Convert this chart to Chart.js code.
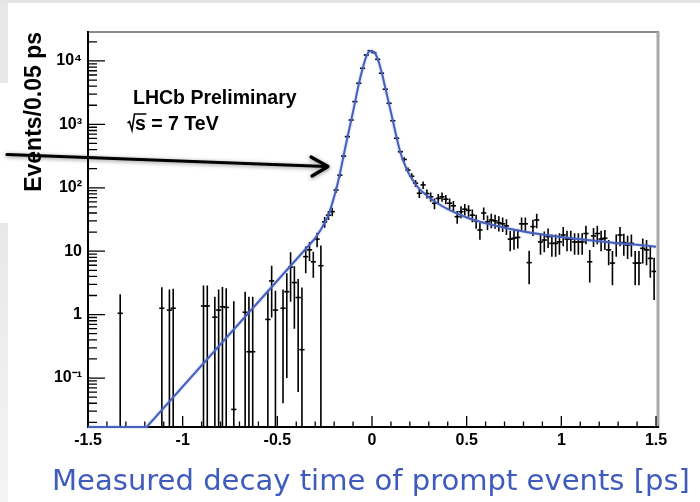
<!DOCTYPE html>
<html>
<head>
<meta charset="utf-8">
<script src="https://cdn.jsdelivr.net/npm/chart.js@4.4.1/dist/chart.umd.min.js"></script>
<style>
  html, body { margin: 0; padding: 0; background: #ffffff; }
  #wrap { width: 700px; height: 502px; position: relative; }
</style>
</head>
<body>
<div id="wrap"><canvas id="c" width="700" height="502"></canvas></div>
<script>
// Bin centres (ps) of the non-empty 0.02 ps bins
const decayTime = [
  -1.33, -1.11, -1.07, -1.05, -0.89, -0.87, -0.83, -0.81, -0.79, -0.77, -0.73, -0.67, -0.65, -0.63, -0.55, -0.53, -0.51,
  -0.47, -0.45, -0.43, -0.41, -0.39, -0.37, -0.35, -0.33, -0.31, -0.29, -0.27, -0.25, -0.23, -0.21, -0.19,
  -0.17, -0.15, -0.13, -0.11, -0.09, -0.07, -0.05, -0.03, -0.01, 0.01, 0.03, 0.05, 0.07, 0.09, 0.11, 0.13, 0.15,
  0.17, 0.19, 0.21, 0.23, 0.25, 0.27, 0.29, 0.31, 0.33, 0.35, 0.37, 0.39, 0.41, 0.43, 0.45, 0.47, 0.49,
  0.51, 0.53, 0.55, 0.57, 0.59, 0.61, 0.63, 0.65, 0.67, 0.69, 0.71, 0.73, 0.75, 0.77, 0.79, 0.81, 0.83,
  0.85, 0.87, 0.89, 0.91, 0.93, 0.95, 0.97, 0.99, 1.01, 1.03, 1.05, 1.07, 1.09, 1.11, 1.13, 1.15, 1.17,
  1.19, 1.21, 1.23, 1.25, 1.27, 1.29, 1.31, 1.33, 1.35, 1.37, 1.39, 1.41, 1.43, 1.45, 1.47, 1.49
];

// Weighted events per bin
const events = [
  1.05, 1.26, 1.18, 1.26, 1.37, 1.37, 0.91, 1.18, 1.33, 1.30, 0.032, 1.09, 0.26, 0.26, 0.84, 3.4, 1.18,
  1.26, 2.3, 5.6, 3.2, 1.86, 0.28, 8.2, 10.5, 6.8, 15.5, 5.9, 29, 37, 42, 92,
  158, 316, 640, 1170, 2280, 4450, 7670, 12400, 14500, 13500, 10600, 6400, 3580, 2150, 1140, 604, 370,
  280, 190, 152, 118, 82, 111, 81, 72, 57, 68, 72, 66, 57, 52, 35, 42, 46,
  44, 37, 30, 21.6, 40, 29, 31, 30, 28, 27, 25, 15.5, 16, 16.5, 27, 27, 6.6,
  24.4, 31, 14, 15, 17, 13.3, 13.3, 14, 18, 15.5, 15.5, 14, 14, 14, 19, 6.8, 17.4,
  19, 15.5, 16, 10.5, 6.5, 13.3, 18, 13.7, 12.5, 13.3, 6.5, 6.5, 11.1, 10.5, 7.7, 4.8
];

// Uncertainty on each bin
const eventErr = [
  1.05, 1.45, 1.3, 1.3, 1.5, 1.5, 1.0, 1.3, 1.4, 1.3, 1.6, 1.2, 1.65, 1.65, 1.6, 2.5, 1.2,
  1.22, 2.2, 4.0, 2.6, 1.8, 2.4, 3.7, 3.5, 3.0, 4.0, 6.4, 5.5, 6.0, 6.5, 9.0,
  13, 18, 25, 34, 48, 67, 88, 111, 120, 116, 103, 80, 60, 46, 34, 25, 19,
  23, 19, 17, 15, 13, 15, 13, 12, 11, 12, 12, 11, 11, 10, 8, 9, 9.5,
  9, 8.5, 7.5, 6.5, 9, 7.5, 8, 7.5, 7.5, 7, 7, 5.5, 5.5, 5.5, 7, 7, 3.6,
  7, 8, 5.2, 5.4, 5.8, 5.1, 5.1, 5.2, 6, 5.5, 5.5, 5.2, 5.2, 5.2, 6.1, 3.6, 5.8,
  6.1, 5.5, 5.6, 4.5, 3.6, 5.1, 6, 5.2, 5, 5.1, 3.6, 3.6, 4.7, 4.5, 3.9, 3.1
];

// Fitted model, exponential rise on the negative side (straight on a log axis)
const fitRiseTime = [-1.5, -1.19, -0.3];
const fitRiseEvents = [0.0169, 0.0169, 16];

// Fitted model, resolution peak and long-lived tail
const fitPeakTime = [
  -0.3, -0.27, -0.25, -0.23, -0.21, -0.19, -0.17, -0.15, -0.13, -0.11,
  -0.09, -0.07, -0.05, -0.03, -0.01, 0.01, 0.03, 0.05, 0.07, 0.09, 0.11, 0.13, 0.15, 0.17, 0.19, 0.21,
  0.23, 0.25, 0.3, 0.35, 0.4, 0.5, 0.6, 0.7, 0.8, 0.9, 1.0, 1.1, 1.2, 1.3, 1.4, 1.5
];
const fitPeakEvents = [
  16, 22, 28, 37, 57, 92, 165, 320, 620, 1150,
  2200, 4300, 7500, 11800, 14400, 13900, 10800, 6800, 3800, 2100, 1150, 620, 360, 245, 178, 140,
  113, 96, 71, 56, 46, 34, 27.5, 23.5, 20.5, 18.3, 16.7, 15.4, 14.3, 13.4, 12.6, 11.8
];

const xTickValues = [-1.5, -1, -0.5, 0, 0.5, 1, 1.5];
const xTickLabels = ['-1.5', '-1', '-0.5', '0', '0.5', '1', '1.5'];
const yTickValues = [0.1, 1, 10, 100, 1000, 10000];
const yTickLabels = ['10\u207B\u00B9', '1', '10', '10\u00B2', '10\u00B3', '10\u2074'];
const xAxisTitle = 'Measured decay time of prompt events [ps]';

const Y_MIN = 0.0169;
const Y_MAX = 28600;
const SANS = '"Liberation Sans", Arial, Helvetica, sans-serif';
const FIT_BLUE = '#4761bd';

// Slide background behind the plot
const pageBackground = {
  id: 'pageBackground',
  beforeDraw(chart) {
    const ctx = chart.ctx;
    ctx.save();
    ctx.fillStyle = '#ffffff';
    ctx.fillRect(0, 0, chart.width, chart.height);
    ctx.fillStyle = '#e4e4e4';
    ctx.fillRect(0, 0, chart.width, 3);
    ctx.fillStyle = '#e7e7e7';
    ctx.fillRect(0, 3, 8, 80);
    const g = ctx.createLinearGradient(0, 223, 0, chart.height);
    g.addColorStop(0, '#e8e8e8');
    g.addColorStop(1, '#f4f4f4');
    ctx.fillStyle = g;
    ctx.fillRect(0, 223, 8, chart.height - 223);
    ctx.restore();
  }
};

// Pad frame with inward-pointing ticks, then the error bars
const rootFrame = {
  id: 'rootFrame',
  beforeDatasetsDraw(chart) {
    const { ctx, chartArea: a, scales: { x, y } } = chart;
    ctx.save();
    ctx.strokeStyle = '#8c8c8c';
    ctx.lineWidth = 2;
    ctx.beginPath();
    ctx.moveTo(a.left, a.top);
    ctx.lineTo(a.right + 3, a.top);
    ctx.stroke();
    ctx.strokeStyle = '#a8a8a8';
    ctx.lineWidth = 3;
    ctx.beginPath();
    ctx.moveTo(a.right + 2, a.top);
    ctx.lineTo(a.right + 2, a.bottom + 1);
    ctx.stroke();

    ctx.strokeStyle = '#000';
    ctx.lineWidth = 2;
    ctx.beginPath();
    ctx.moveTo(a.left, a.top - 1);
    ctx.lineTo(a.left, a.bottom);
    ctx.lineTo(a.right + 3, a.bottom);
    ctx.stroke();

    ctx.lineWidth = 1.3;
    ctx.beginPath();
    for (let k = -15; k <= 15; k++) {
      const px = x.getPixelForValue(k / 10);
      const len = (k % 5 === 0) ? 11 : 5.5;
      ctx.moveTo(px, a.bottom);
      ctx.lineTo(px, a.bottom - len);
    }
    for (let e = -2; e <= 4; e++) {
      for (let m = 1; m <= 9; m++) {
        const v = m * Math.pow(10, e);
        if (v < Y_MIN || v > Y_MAX) continue;
        const py = y.getPixelForValue(v);
        const len = m === 1 ? 17 : 9;
        ctx.moveTo(a.left, py);
        ctx.lineTo(a.left + len, py);
      }
    }
    ctx.stroke();
    ctx.restore();

    // vertical error bars
    ctx.save();
    ctx.beginPath();
    ctx.rect(a.left, a.top, a.right - a.left, a.bottom - a.top);
    ctx.clip();
    ctx.strokeStyle = '#000';
    ctx.lineWidth = 1.6;
    ctx.beginPath();
    decayTime.forEach((t, i) => {
      const v = events[i], err = eventErr[i];
      const px = x.getPixelForValue(t);
      const top = y.getPixelForValue(v + err);
      const low = (v - err) > Y_MIN ? y.getPixelForValue(v - err) : a.bottom + 2;
      ctx.moveTo(px, top);
      ctx.lineTo(px, low);
    });
    ctx.stroke();
    ctx.restore();
  },
  beforeDatasetDraw(chart, args) {
    if (args.index < 2) {
      const ctx = chart.ctx;
      ctx.shadowColor = 'rgba(100,130,230,0.55)';
      ctx.shadowBlur = 2;
    }
  },
  afterDatasetDraw(chart, args) {
    if (args.index < 2) {
      const ctx = chart.ctx;
      ctx.shadowColor = 'rgba(0,0,0,0)';
      ctx.shadowBlur = 0;
    }
  }
};

// Axis caption, experiment label and the pointer arrow
const overlay = {
  id: 'overlay',
  afterDraw(chart) {
    const ctx = chart.ctx;
    const a = chart.chartArea;
    ctx.save();

    // caption under the time axis, sized to span 638 px
    ctx.font = '30px "DejaVu Sans", Verdana, sans-serif';
    const size = 30 * 638 / ctx.measureText(xAxisTitle).width;
    ctx.font = size.toFixed(2) + 'px "DejaVu Sans", Verdana, sans-serif';
    ctx.fillStyle = '#3f5bbd';
    ctx.textAlign = 'center';
    ctx.textBaseline = 'alphabetic';
    ctx.fillText(xAxisTitle, (a.left + a.right) / 2 - 1, 490);

    ctx.textAlign = 'left';
    ctx.fillStyle = '#000';
    ctx.font = 'bold 19.5px ' + SANS;
    ctx.fillText('LHCb Preliminary', 133, 104);
    ctx.fillText('s = 7 TeV', 135, 130);
    const sw = ctx.measureText('s').width;
    ctx.strokeStyle = '#000';
    ctx.lineWidth = 1.6;
    ctx.lineJoin = 'miter';
    ctx.beginPath();
    ctx.moveTo(127.5, 123);
    ctx.lineTo(129.5, 121.5);
    ctx.lineTo(132, 130);
    ctx.lineTo(134.5, 114);
    ctx.lineTo(135 + sw + 0.5, 114);
    ctx.stroke();

    ctx.shadowColor = 'rgba(0,0,0,0.45)';
    ctx.shadowBlur = 4;
    ctx.shadowOffsetY = 1;
    ctx.strokeStyle = '#000';
    ctx.lineWidth = 3.2;
    ctx.lineCap = 'round';
    ctx.lineJoin = 'round';
    ctx.beginPath();
    ctx.moveTo(7, 154.5);
    ctx.lineTo(326, 166.5);
    ctx.stroke();
    ctx.beginPath();
    ctx.moveTo(311, 157);
    ctx.lineTo(328, 166.5);
    ctx.lineTo(312, 176);
    ctx.stroke();
    ctx.restore();
  }
};

new Chart(document.getElementById('c'), {
  type: 'scatter',
  data: {
    datasets: [
      {
        type: 'line',
        data: fitPeakTime.map((t, i) => ({ x: t, y: fitPeakEvents[i] })),
        borderColor: FIT_BLUE,
        borderWidth: 2,
        pointRadius: 0,
        cubicInterpolationMode: 'monotone',
        fill: false,
        clip: 3
      },
      {
        type: 'line',
        data: fitRiseTime.map((t, i) => ({ x: t, y: fitRiseEvents[i] })),
        borderColor: FIT_BLUE,
        borderWidth: 2,
        pointRadius: 0,
        tension: 0,
        fill: false,
        clip: 3
      },
      {
        type: 'scatter',
        data: decayTime.map((t, i) => ({ x: t, y: events[i] })),
        pointStyle: 'line',
        pointRadius: 2.6,
        pointBorderWidth: 1.6,
        pointBorderColor: '#000',
        pointBackgroundColor: '#000',
        pointHoverRadius: 0
      }
    ]
  },
  options: {
    responsive: false,
    devicePixelRatio: 1,
    animation: false,
    events: [],
    layout: { padding: { top: 32, right: 44, bottom: 0, left: 0 } },
    plugins: { legend: { display: false }, tooltip: { enabled: false } },
    scales: {
      x: {
        type: 'linear',
        min: -1.5,
        max: 1.5,
        grid: { display: false, drawTicks: false },
        border: { display: false },
        afterBuildTicks: s => { s.ticks = xTickValues.map(v => ({ value: v })); },
        afterFit: s => { s.height = 75; },
        ticks: {
          autoSkip: false,
          maxRotation: 0,
          padding: 4,
          color: '#000',
          font: { family: SANS, size: 16, weight: 'bold' },
          callback: (v, i) => xTickLabels[i]
        },
        title: { display: false }
      },
      y: {
        type: 'logarithmic',
        min: Y_MIN,
        max: Y_MAX,
        grid: { display: false, drawTicks: false },
        border: { display: false },
        afterBuildTicks: s => { s.ticks = yTickValues.map(v => ({ value: v })); },
        afterFit: s => { s.width = 88; },
        ticks: {
          autoSkip: false,
          padding: 6,
          color: '#000',
          font: { family: SANS, size: 16, weight: 'bold' },
          callback: (v, i) => yTickLabels[i]
        },
        title: {
          display: true,
          text: 'Events/0.05 ps',
          align: 'end',
          color: '#000',
          font: { family: SANS, size: 23, weight: 'bold' },
          padding: { top: 21, bottom: 0 }
        }
      }
    }
  },
  plugins: [pageBackground, rootFrame, overlay]
});
</script>
</body>
</html>
